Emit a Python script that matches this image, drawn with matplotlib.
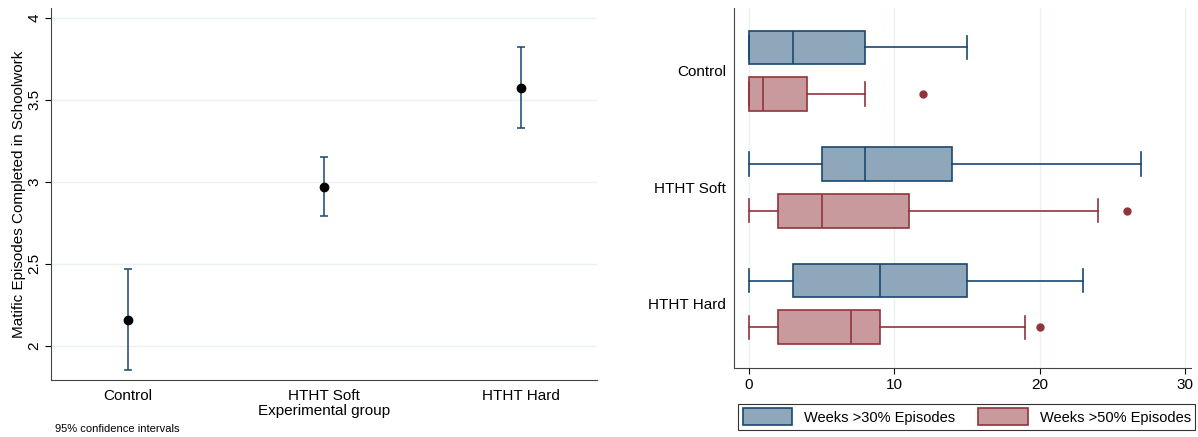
import matplotlib.pyplot as plt
from matplotlib.patches import Patch

plt.rcParams['font.family'] = ['Liberation Sans', 'DejaVu Sans']

groups = ["Control", "HTHT Soft", "HTHT Hard"]

# left panel: means with 95% CI
means = [2.16, 2.97, 3.57]
ci_low = [1.85, 2.79, 3.33]
ci_high = [2.47, 3.15, 3.82]

# right panel: box plot summaries (whislo, q1, med, q3, whishi, outliers)
weeks30_lo = [0, 0, 0]
weeks30_q1 = [0, 5, 3]
weeks30_med = [3, 8, 9]
weeks30_q3 = [8, 14, 15]
weeks30_hi = [15, 27, 23]
weeks30_out = [[], [], []]

weeks50_lo = [0, 0, 0]
weeks50_q1 = [0, 2, 2]
weeks50_med = [1, 5, 7]
weeks50_q3 = [4, 11, 9]
weeks50_hi = [8, 24, 19]
weeks50_out = [[12], [26], [20]]

navy = "#1a476f"
navy_fill = "#8fa7bb"
maroon = "#90353b"
maroon_fill = "#c89a9e"
grid_c = "#eaf2f3"
fs = 11

fig = plt.figure(figsize=(11.98, 4.37), dpi=100)

# ---- left panel
ax1 = fig.add_axes([0.0426, 0.130, 0.456, 0.852])
xs = range(len(groups))
err = [[m - l for m, l in zip(means, ci_low)], [h - m for m, h in zip(means, ci_high)]]
ax1.errorbar(xs, means, yerr=err, fmt="none", ecolor=navy, elinewidth=1.1, capsize=3, capthick=1.1)
ax1.plot(xs, means, "o", color="black", markersize=6, zorder=3)
ax1.set_xlim(-0.39, 2.39)
ax1.set_ylim(1.79, 4.06)
ax1.set_yticks([2, 2.5, 3, 3.5, 4])
ax1.set_yticklabels(["2", "2.5", "3", "3.5", "4"], rotation=90, va="center", fontsize=fs)
ax1.set_xticks(list(xs))
ax1.set_xticklabels(groups, fontsize=fs)
ax1.tick_params(axis="x", length=0, pad=6)
ax1.tick_params(axis="y", length=4, pad=3)
ax1.grid(axis="y", color=grid_c, linewidth=1)
ax1.set_axisbelow(True)
for s in ["top", "right"]:
    ax1.spines[s].set_visible(False)
for s in ["left", "bottom"]:
    ax1.spines[s].set_color("#444444")
ax1.set_ylabel("Matific Episodes Completed in Schoolwork", fontsize=fs, labelpad=1)
ax1.set_xlabel("Experimental group", fontsize=fs, labelpad=1)
fig.text(0.046, 0.012, "95% confidence intervals", fontsize=8)

# ---- right panel
ax2 = fig.add_axes([0.613, 0.158, 0.381, 0.824])


def make_stats(lo, q1, med, q3, hi, out):
    return [dict(whislo=a, q1=b, med=c, q3=d, whishi=e, fliers=f)
            for a, b, c, d, e, f in zip(lo, q1, med, q3, hi, out)]


stats30 = make_stats(weeks30_lo, weeks30_q1, weeks30_med, weeks30_q3, weeks30_hi, weeks30_out)
stats50 = make_stats(weeks50_lo, weeks50_q1, weeks50_med, weeks50_q3, weeks50_hi, weeks50_out)

for stats, off, ec, fc in [(stats30, -0.2, navy, navy_fill), (stats50, 0.2, maroon, maroon_fill)]:
    ax2.bxp(stats, positions=[g + off for g in range(len(groups))], vert=False,
            widths=0.29, patch_artist=True, manage_ticks=False,
            boxprops=dict(facecolor=fc, edgecolor=ec, linewidth=1.2),
            medianprops=dict(color=ec, linewidth=1.2),
            whiskerprops=dict(color=ec, linewidth=1.2),
            capprops=dict(color=ec, linewidth=1.2),
            capwidths=0.2,
            flierprops=dict(marker="o", markerfacecolor=ec, markeredgecolor=ec, markersize=5))

ax2.set_xlim(-1.0, 30.4)
ax2.set_ylim(2.55, -0.54)
ax2.set_xticks([0, 10, 20, 30])
ax2.set_xticklabels(["0", "10", "20", "30"], fontsize=fs)
ax2.set_yticks(list(range(len(groups))))
ax2.set_yticklabels(groups, fontsize=fs)
ax2.tick_params(axis="y", length=0, pad=6)
ax2.tick_params(axis="x", length=4)
ax2.grid(axis="x", color=grid_c, linewidth=1)
ax2.set_axisbelow(True)
for s in ["top", "right"]:
    ax2.spines[s].set_visible(False)
for s in ["left", "bottom"]:
    ax2.spines[s].set_color("#444444")

handles = [Patch(facecolor=navy_fill, edgecolor=navy, linewidth=1.2, label="Weeks >30% Episodes"),
           Patch(facecolor=maroon_fill, edgecolor=maroon, linewidth=1.2, label="Weeks >50% Episodes")]
leg = fig.legend(handles=handles, ncol=2, loc="center", bbox_to_anchor=(0.807, 0.046),
                 fontsize=10.5, frameon=True, fancybox=False, handlelength=3.4,
                 handleheight=1.4, handletextpad=0.8, borderpad=0.3, columnspacing=1.6)
leg.get_frame().set_edgecolor("black")
leg.get_frame().set_linewidth(0.8)

fig.savefig("out.png", dpi=100)
